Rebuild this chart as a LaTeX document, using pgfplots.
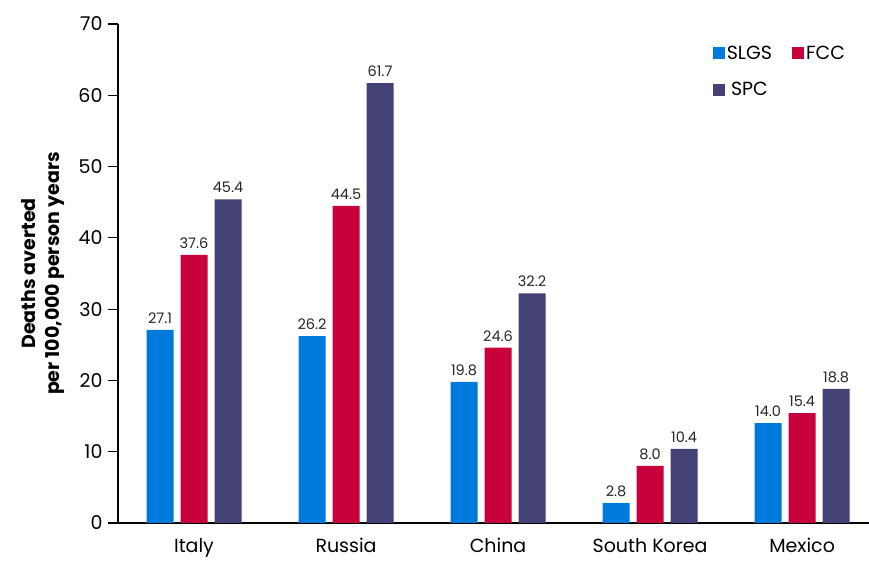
\documentclass[border=0pt]{standalone}
\usepackage{pgfplots}
\pgfplotsset{compat=1.18}
\usepackage{fontspec}
\setmainfont{Poppins}
\definecolor{slgs}{RGB}{0,122,218}
\definecolor{fcc}{RGB}{200,0,60}
\definecolor{spc}{RGB}{68,66,116}
\begin{document}
\begin{tikzpicture}
\begin{axis}[
  scale only axis, width=751pt, height=499pt,
  xmin=-0.5, xmax=4.44, ymin=0, ymax=70,
  ytick={0,10,...,70},
  xtick={0,1,2,3,4},
  xticklabels={Italy,Russia,China,South Korea,Mexico},
  major x tick style={draw=none},
  axis lines=left, axis line style={line width=1.6pt, -},
  y axis line style={line width=1.6pt},
  ytick style={line width=1.2pt, black},
  tick align=outside, major tick length=10pt,
  ticklabel style={font=\fontsize{19}{22}\selectfont},
  yticklabel style={xshift=-2pt},
  xticklabel style={yshift=-2pt},
  /pgf/number format/assume math mode=true,
  ylabel={Deaths averted\\per 100,000 person years},
  ylabel style={font=\bfseries\fontsize{19}{24}\selectfont, align=center,
    at={(axis description cs:-0.1,0.5)}, anchor=center},
  ybar, bar width=27pt,
  nodes near coords,
  nodes near coords style={font=\fontsize{14.5}{17}\selectfont, text=black!85, yshift=3pt,
    /pgf/number format/.cd, fixed, fixed zerofill, precision=1, assume math mode=true},
  legend style={draw=none, fill=none, at={(0.975,0.965)}, anchor=north east,
    font=\fontsize{19}{22}\selectfont, /tikz/every even column/.append style={column sep=18pt},
    row sep=18pt},
  legend columns=2,
  legend image code/.code={\fill[#1] (-2pt,-6pt) rectangle (10pt,6pt);},
]
\addplot[fill=slgs, draw=none, bar shift=-34pt] coordinates {(0,27.1) (1,26.2) (2,19.8) (3,2.8) (4,14.0)};
\addplot[fill=fcc, draw=none, bar shift=0pt] coordinates {(0,37.6) (1,44.5) (2,24.6) (3,8.0) (4,15.4)};
\addplot[fill=spc, draw=none, bar shift=34pt] coordinates {(0,45.4) (1,61.7) (2,32.2) (3,10.4) (4,18.8)};
\legend{SLGS,FCC,SPC}
\end{axis}
\pgfresetboundingbox
\path (-118pt,-41pt) rectangle (751pt,523pt);
\end{tikzpicture}
\end{document}
